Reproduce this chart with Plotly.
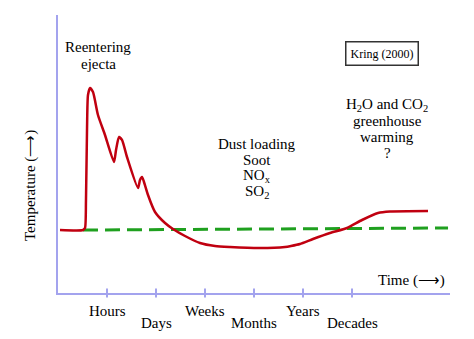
import plotly.graph_objects as go

# Time categories (tick positions 1..6 on the time axis)
tick_labels = ["Hours", "Days", "Weeks", "Months", "Years", "Decades"]
tick_pos = [1, 2, 3, 4, 5, 6]

# Temperature response curve (arbitrary units)
temp_x = [0.041, 0.510, 0.551, 0.571, 0.592, 0.612, 0.653, 0.714, 0.816, 0.959,
          1.143, 1.184, 1.245, 1.306, 1.408, 1.633, 1.673, 1.714, 1.755, 1.837,
          1.980, 2.184, 2.347, 2.592, 2.898, 3.204, 3.510, 4.122, 4.633, 4.755,
          4.939, 5.204, 5.551, 5.898, 6.204, 6.531, 6.776, 7.551]
temp_y = [22.66, 22.66, 23.38, 33.45, 58.63, 71.22, 73.74, 72.30, 64.03, 56.83,
          47.12, 51.44, 56.12, 55.04, 48.92, 37.77, 40.65, 41.73, 39.93, 35.25,
          29.14, 25.18, 23.02, 20.50, 17.99, 16.91, 16.55, 16.19, 16.55, 16.91,
          17.63, 19.42, 21.58, 23.38, 26.26, 28.78, 29.32, 29.50]

# Baseline (pre-impact temperature)
base_x = [0.51, 7.96]
base_y = [22.66, 23.38]

FONT = "Liberation Serif, Times New Roman, serif"
AXIS_COLOR = "#a3a3ee"
FS = 15

fig = go.Figure()
fig.add_trace(go.Scatter(x=base_x, y=base_y, mode="lines",
                         line=dict(color="#1fa01f", width=3, dash="15px,7px"),
                         hoverinfo="skip"))
fig.add_trace(go.Scatter(x=temp_x, y=temp_y, mode="lines",
                         line=dict(color="#c00010", width=2.5, shape="spline", smoothing=0.6),
                         hoverinfo="skip"))

shapes = []
for t in tick_pos:
    shapes.append(dict(type="line", xref="x", yref="paper", x0=t, x1=t,
                       y0=-0.016, y1=0.016, line=dict(color=AXIS_COLOR, width=2)))

annotations = []
for i, (t, lab) in enumerate(zip(tick_pos, tick_labels)):
    annotations.append(dict(x=t, y=0, xref="x", yref="paper", text=lab,
                            showarrow=False, xanchor="center", yanchor="middle",
                            yshift=-18 if i % 2 == 0 else -30,
                            font=dict(family=FONT, size=FS, color="black")))

W, H = 474, 339
L, R, T, B = 58, 24, 15, 46
pw, ph = W - L - R, H - T - B
px = lambda p: (p - L) / pw
py = lambda p: (H - B - p) / ph

def txt(x, y, text, size=FS, **kw):
    d = dict(x=px(x), y=py(y), xref="paper", yref="paper", text=text,
             showarrow=False, align="center", xanchor="center", yanchor="middle",
             font=dict(family=FONT, size=size, color="black"))
    d.update(kw)
    annotations.append(d)

def block(x, y0, lines, step=16):
    for k, line in enumerate(lines):
        txt(x, y0 + k * step, line)

block(98, 47, ["Reentering", "ejecta"], step=17)
block(257, 144, ["Dust loading", "Soot", "NO<sub>x</sub>", "SO<sub>2</sub>"])
block(387, 105, ["H<sub>2</sub>O and CO<sub>2</sub>", "greenhouse", "warming", "?"])
txt(411, 280, "Time (⟶)")
txt(382, 53, "Kring (2000)", size=12, bordercolor="#333", borderwidth=1.5, borderpad=4)
txt(30, 186, "Temperature (⟶)", textangle=-90)

fig.update_layout(
    width=W, height=H,
    margin=dict(l=L, r=R, t=T, b=B),
    paper_bgcolor="white", plot_bgcolor="white",
    showlegend=False,
    shapes=shapes, annotations=annotations,
    xaxis=dict(range=[0, 8], showgrid=False, zeroline=False, showline=True,
               linecolor=AXIS_COLOR, linewidth=2, showticklabels=False, ticks=""),
    yaxis=dict(range=[0, 100], showgrid=False, zeroline=False, showline=True,
               linecolor=AXIS_COLOR, linewidth=2, showticklabels=False, ticks=""),
)
fig.write_html("out.html")
